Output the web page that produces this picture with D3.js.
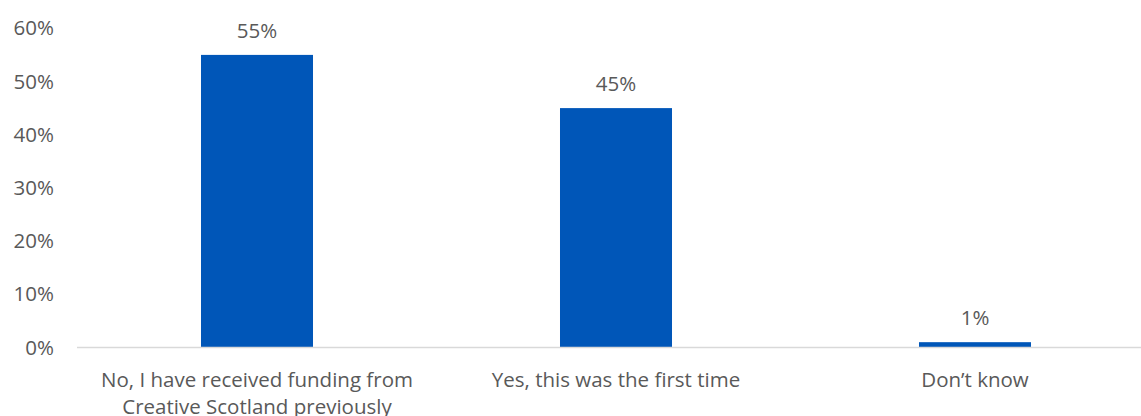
<!DOCTYPE html>
<html>
<head>
<meta charset="utf-8">
<script src="https://cdn.jsdelivr.net/npm/d3@7"></script>
<style>
  html, body { margin: 0; padding: 0; background: #ffffff; }
  svg { display: block; }
  text { font-family: "Open Sans", "Liberation Sans", sans-serif; fill: #595959; }
</style>
</head>
<body>
<svg id="chart" width="1141" height="416"></svg>
<script>
// Responses: had the applicant received funding before?
const categories = [
  "No, I have received funding from Creative Scotland previously",
  "Yes, this was the first time",
  "Don\u2019t know"
];
const categoryLines = [
  ["No, I have received funding from", "Creative Scotland previously"],
  ["Yes, this was the first time"],
  ["Don\u2019t know"]
];
const values = [55, 45, 1];
const yTicks = [0, 10, 20, 30, 40, 50, 60];

const svg = d3.select("#chart");
const fontSize = 20.5;

const x = d3.scaleBand()
  .domain(categories)
  .range([77.5, 1154.5])
  .paddingInner(0.688)
  .paddingOuter(0.344);

const y = d3.scaleLinear()
  .domain([0, 60])
  .range([347.5, 28.3]);

// Y axis tick labels (no axis line, no gridlines)
const yAxis = d3.axisLeft(y)
  .tickValues(yTicks)
  .tickFormat(d => d + "%")
  .tickSize(0)
  .tickPadding(0);

const gy = svg.append("g")
  .attr("transform", "translate(54,0)")
  .call(yAxis);
gy.select(".domain").remove();
gy.selectAll("text")
  .attr("font-size", fontSize)
  .attr("fill", "#595959")
  .style("font-family", "'Open Sans', sans-serif");

// Bars
svg.append("g")
  .selectAll("rect")
  .data(values)
  .join("rect")
  .attr("x", (d, i) => x(categories[i]))
  .attr("width", x.bandwidth())
  .attr("y", d => y(d))
  .attr("height", d => y(0) - y(d))
  .attr("fill", "#0056b8");

// Baseline
svg.append("line")
  .attr("x1", 77)
  .attr("x2", 1141)
  .attr("y1", y(0))
  .attr("y2", y(0))
  .attr("stroke", "#d9d9d9")
  .attr("stroke-width", 1.5);

// Value labels
svg.append("g")
  .selectAll("text")
  .data(values)
  .join("text")
  .attr("x", (d, i) => x(categories[i]) + x.bandwidth() / 2)
  .attr("y", d => y(d) - 24)
  .attr("dy", "0.35em")
  .attr("text-anchor", "middle")
  .attr("font-size", fontSize)
  .text(d => d + "%");

// Category labels, wrapped onto lines
const cat = svg.append("g")
  .selectAll("text")
  .data(categoryLines)
  .join("text")
  .attr("text-anchor", "middle")
  .attr("font-size", fontSize)
  .attr("x", (d, i) => x(categories[i]) + x.bandwidth() / 2)
  .attr("y", 380);
cat.selectAll("tspan")
  .data(d => d)
  .join("tspan")
  .attr("x", function () { return d3.select(this.parentNode).attr("x"); })
  .attr("dy", (d, i) => i === 0 ? "0.35em" : 27)
  .text(d => d);
</script>
</body>
</html>
